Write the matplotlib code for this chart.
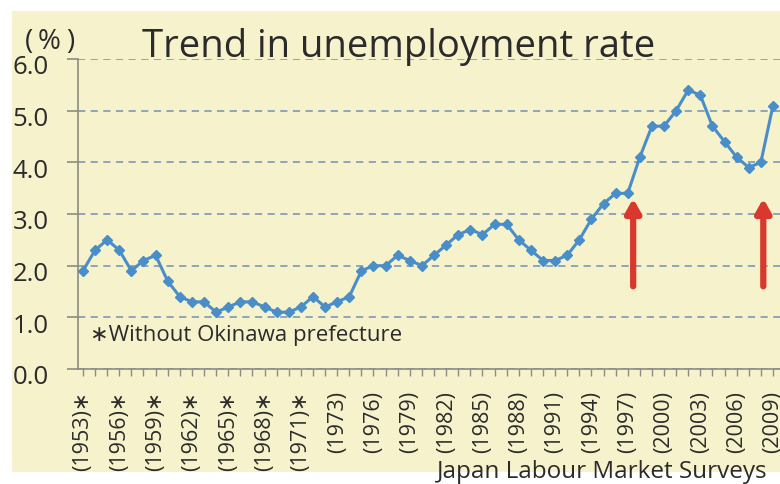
#!/usr/bin/env python3
# Trend in unemployment rate (Japan Labour Market Surveys), 1953-2009
import matplotlib
matplotlib.use("Agg")
import matplotlib.pyplot as plt
import matplotlib.transforms as mtransforms
from matplotlib.patches import Rectangle

# Years as shown on the axis (1972 appears twice: without / with Okinawa)
years = ["1953", "1954", "1955", "1956", "1957", "1958", "1959", "1960", "1961",
         "1962", "1963", "1964", "1965", "1966", "1967", "1968", "1969", "1970",
         "1971", "1972", "1972", "1973", "1974", "1975", "1976", "1977", "1978",
         "1979", "1980", "1981", "1982", "1983", "1984", "1985", "1986", "1987",
         "1988", "1989", "1990", "1991", "1992", "1993", "1994", "1995", "1996",
         "1997", "1998", "1999", "2000", "2001", "2002", "2003", "2004", "2005",
         "2006", "2007", "2008", "2009"]
rate = [1.9, 2.3, 2.5, 2.3, 1.9, 2.1, 2.2, 1.7, 1.4,
        1.3, 1.3, 1.1, 1.2, 1.3, 1.3, 1.2, 1.1, 1.1,
        1.2, 1.4, 1.2, 1.3, 1.4, 1.9, 2.0, 2.0, 2.2,
        2.1, 2.0, 2.2, 2.4, 2.6, 2.7, 2.6, 2.8, 2.8,
        2.5, 2.3, 2.1, 2.1, 2.2, 2.5, 2.9, 3.2, 3.4,
        3.4, 4.1, 4.7, 4.7, 5.0, 5.4, 5.3, 4.7, 4.4,
        4.1, 3.9, 4.0, 5.1]

# tick labels every third position
label_pos = [0, 3, 6, 9, 12, 15, 18, 21, 24, 27, 30, 33, 36, 39, 42, 45, 48, 51, 54, 57]
tick_labels = ["(1953)∗", "(1956)∗", "(1959)∗", "(1962)∗", "(1965)∗", "(1968)∗",
               "(1971)∗", "(1973)", "(1976)", "(1979)", "(1982)", "(1985)",
               "(1988)", "(1991)", "(1994)", "(1997)", "(2000)", "(2003)",
               "(2006)", "(2009)"]
yticks = [0.0, 1.0, 2.0, 3.0, 4.0, 5.0, 6.0]

# red arrows (x in position units, from y0 to y1)
arrow_x = [45.45, 56.2]
arrow_y0, arrow_y1 = 1.6, 3.3

CREAM = "#f6f2cc"
BLUE = "#4a8ec9"
GRID = "#86a0b6"
AXIS = "#8c8c82"
TEXT = "#2b2b2b"
RED = "#d8382e"

plt.rcParams["font.family"] = ["Open Sans", "DejaVu Sans"]

fig = plt.figure(figsize=(7.8, 4.85), dpi=100, facecolor="white")
bg = Rectangle((12 / 780, 1 - 473 / 485), 1, (473 - 12) / 485,
               transform=fig.transFigure, facecolor=CREAM, edgecolor="none")
bg.set_zorder(-10)
fig.patches.append(bg)

ax = fig.add_axes([78 / 780, 1 - 370 / 485, 1 - 78 / 780, 310 / 485])
ax.patch.set_alpha(0)

x = list(range(len(rate)))
ax.plot(x, rate, color=BLUE, lw=2.2, marker="D", ms=5, zorder=3, clip_on=False)

for xa in arrow_x:
    ax.annotate("", xy=(xa, arrow_y1), xytext=(xa, arrow_y0),
                arrowprops=dict(arrowstyle="-|>,head_length=0.8,head_width=0.45",
                                color=RED, lw=4.5, shrinkA=0, shrinkB=0), zorder=4)

ax.set_xlim(-0.41, 57.58)
ax.set_ylim(0, 6.0)
ax.set_yticks(yticks)
ax.set_yticklabels([f"{v:.1f}" for v in yticks], fontsize=18.5, color=TEXT)
ax.set_xticks(label_pos)
ax.set_xticklabels(tick_labels, rotation=90, fontsize=15.5, color=TEXT)
ax.set_xticks(x, minor=True)

ax.yaxis.grid(True, color=GRID, linestyle=(0, (4, 3)), lw=1.3)
for s in ["top", "right"]:
    ax.spines[s].set_visible(False)
for s in ["left", "bottom"]:
    ax.spines[s].set_color(AXIS)
    ax.spines[s].set_linewidth(1.2)
ax.tick_params(axis="y", length=8, color=AXIS, width=1.2, pad=13)
ax.tick_params(axis="x", which="both", length=5, color=AXIS, width=1.0, pad=10)

# y labels sit slightly below their grid lines
off = mtransforms.ScaledTranslation(0, -5 / 100, fig.dpi_scale_trans)
for lab in ax.get_yticklabels():
    lab.set_transform(lab.get_transform() + off)

# "(%)" drawn as three parts to get the wide spacing of the original
for ch, px in [("(", 25), ("%", 38), (")", 66)]:
    fig.text(px / 780, 1 - 49 / 485, ch, fontsize=20, color=TEXT)
fig.text(399 / 780, 1 - 57 / 485, "Trend in unemployment rate", fontsize=27.5,
         color=TEXT, ha="center", va="baseline")
ax.text(0.6, 0.66, "∗Without Okinawa prefecture", fontsize=16, color=TEXT,
        va="center", ha="left")
fig.text(768 / 780, 1 - 478 / 485, "Japan Labour Market Surveys", fontsize=17.5,
         color=TEXT, ha="right", va="baseline")

fig.savefig("out.png", dpi=100)
